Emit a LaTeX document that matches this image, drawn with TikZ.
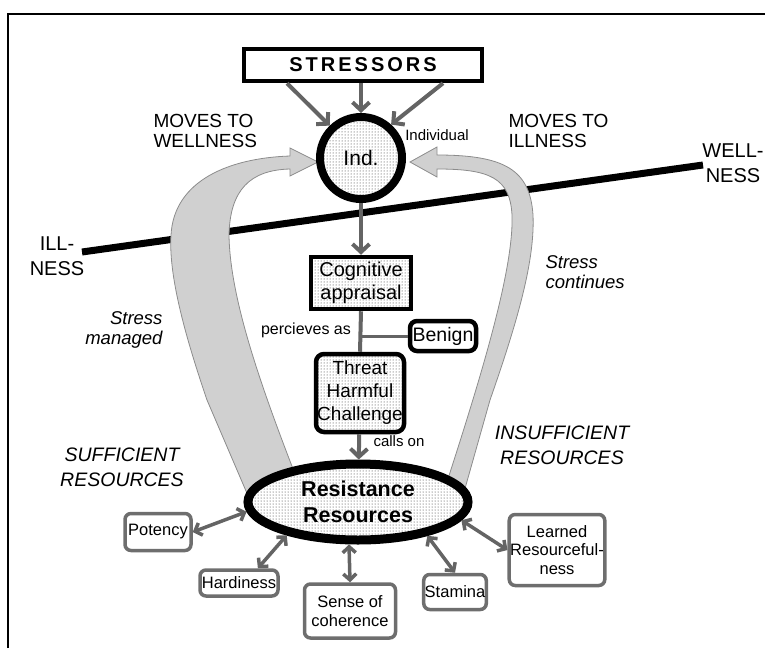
\documentclass[tikz,border=0pt]{standalone}
\usepackage{fontspec}
\setmainfont{Liberation Sans}
\usetikzlibrary{arrows.meta,shapes.geometric,patterns}
\definecolor{arrowgray}{RGB}{100,100,100}
\definecolor{boxgray}{RGB}{110,110,110}
\definecolor{ribbongray}{RGB}{208,208,208}
\definecolor{ribbonedge}{RGB}{140,140,140}

\begin{document}
\begin{tikzpicture}[x=1pt,y=-1pt,
    barb/.style={draw=arrowgray,line width=4pt,-{Straight Barb[length=8pt,width=17pt]}},
    dbarb/.style={draw=arrowgray,line width=3.5pt,{Straight Barb[length=6pt,width=13pt]}-{Straight Barb[length=6pt,width=13pt]}},
    stipple/.style={preaction={fill=white},pattern=dots,pattern color=black!85},
    mainbox/.style={draw=black,line width=4.5pt,align=center,inner sep=1pt},
    resbox/.style={draw=boxgray,line width=3.5pt,rounded corners=6pt,fill=white,align=center,inner sep=1pt,font=\fontsize{16.5}{18.5}\selectfont},
    caption/.style={font=\fontsize{19}{20}\selectfont},
    ribbon/.style={fill=ribbongray,draw=ribbonedge,line width=0.8pt}]
    \useasboundingbox (0,0) rectangle (765,648);
    % frame
    \draw[line width=2pt] (8,648) -- (8,14) -- (765,14);

    % wellness - illness axis
    \coordinate (illend) at (82,252);
    \coordinate (wellend) at (703,165);
    \draw[line width=7pt] (illend) -- (wellend);
    \node[font=\fontsize{20}{25}\selectfont,align=center] (ill) at (57,256) {ILL-\\NESS};
    \node[font=\fontsize{20}{25}\selectfont,align=center] (well) at (733,163) {WELL-\\NESS};

    % wide arrows
    \draw[ribbon] (252,505) -- (207,400) .. controls (190,350) and (168,280) .. (171,235)
        .. controls (174,180) and (230,158) .. (290,156) -- (290,148) -- (318,162) -- (290,176) -- (290,169)
        .. controls (250,170) and (230,190) .. (229,235) .. controls (230,300) and (262,390) .. (302,492) -- cycle;
    \draw[ribbon] (464,492) -- (490,400) .. controls (518,320) and (535,260) .. (533,215)
        .. controls (530,170) and (505,155) .. (437,155) -- (437,147) -- (410,162) -- (437,177) -- (437,169)
        .. controls (490,169) and (510,178) .. (512,215) .. controls (514,270) and (480,380) .. (445,488) -- cycle;

    % top
    \node[mainbox,minimum width=238pt,minimum height=32pt,font=\bfseries\fontsize{20}{22}\selectfont] (stressors) at (363,65)
        {\addfontfeature{LetterSpace=15}STRESSORS};
    \node[circle,draw=black,line width=8pt,stipple,minimum size=82pt,inner sep=0pt,font=\fontsize{21}{23}\selectfont] (ind) at (361,158) {Ind.};
    \node[font=\fontsize{15}{17}\selectfont] (individual) at (437,135) {Individual};
    \draw[barb] ([xshift=-76pt]stressors.south) -- (ind.134);
    \draw[barb] ([xshift=-2pt]stressors.south) -- (ind.north);
    \draw[barb] ([xshift=80pt]stressors.south) -- (ind.48);

    \node[caption,align=left,anchor=west] (movesw) at (150,131) {MOVES TO\\WELLNESS};
    \node[caption,align=left,anchor=west] (movesi) at (505,131) {MOVES TO\\ILLNESS};

    % appraisal
    \node[mainbox,stipple,minimum width=100pt,minimum height=52pt,font=\fontsize{20}{23}\selectfont] (cog) at (361,283) {Cognitive\\appraisal};
    \node[mainbox,rounded corners=7pt,fill=white,minimum width=66pt,minimum height=30pt,font=\fontsize{19.5}{22}\selectfont] (benign) at (443,336) {Benign};
    \node[mainbox,rounded corners=8pt,stipple,minimum width=88pt,minimum height=78pt,font=\fontsize{19}{23}\selectfont] (threat) at (360,393) {Threat\\Harmful\\Challenge};
    \node[font=\fontsize{16}{18}\selectfont] (perceive) at (306,330) {percieves as};
    \draw[barb] (ind) -- (cog);
    \draw[arrowgray,line width=4pt] (cog.south) -- (threat.north);
    \draw[arrowgray,line width=3pt] (benign.west) -- (benign.west -| cog.south);

    % resources
    \node[ellipse,draw=black,line width=9pt,stipple,minimum width=220pt,minimum height=76pt,inner sep=0pt,align=center,font=\bfseries\fontsize{21.5}{26}\selectfont] (res) at (358,502) {Resistance\\Resources};
    \draw[barb] (threat) -- (res);
    \node[font=\fontsize{15}{17}\selectfont] (callson) at (399,441) {calls on};

    \node[resbox,minimum width=66pt,minimum height=37pt] (potency) at (158,532) {Potency};
    \node[resbox,minimum width=78pt,minimum height=26pt] (hardiness) at (239,583) {Hardiness};
    \node[resbox,minimum width=91pt,minimum height=54pt] (sense) at (350,611) {Sense of\\coherence};
    \node[resbox,minimum width=62pt,minimum height=35pt] (stamina) at (455,592) {Stamina};
    \node[resbox,minimum width=95pt,minimum height=71pt] (learned) at (557,550) {Learned\\Resourceful-\\ness};
    \draw[dbarb] (potency.east) -- (res.185);
    \draw[dbarb] (hardiness.38) -- (res.205);
    \draw[dbarb] (sense.north) -- (res.258);
    \draw[dbarb] (stamina.north) -- (res.334);
    \draw[dbarb] (learned.west) -- (res.350);

    % side labels
    \node[font=\itshape\fontsize{18.5}{20}\selectfont,align=right,anchor=east] (managed) at (166,330) {Stress\\managed};
    \node[font=\itshape\fontsize{18.5}{20}\selectfont,align=left,anchor=west] (continues) at (542,272) {Stress\\continues};
    \node[font=\itshape\fontsize{19.5}{25}\selectfont,align=center] (sufficient) at (122,467) {SUFFICIENT\\RESOURCES};
    \node[font=\itshape\fontsize{19.5}{25}\selectfont,align=center] (insufficient) at (562,445) {INSUFFICIENT\\RESOURCES};
\end{tikzpicture}
\end{document}
